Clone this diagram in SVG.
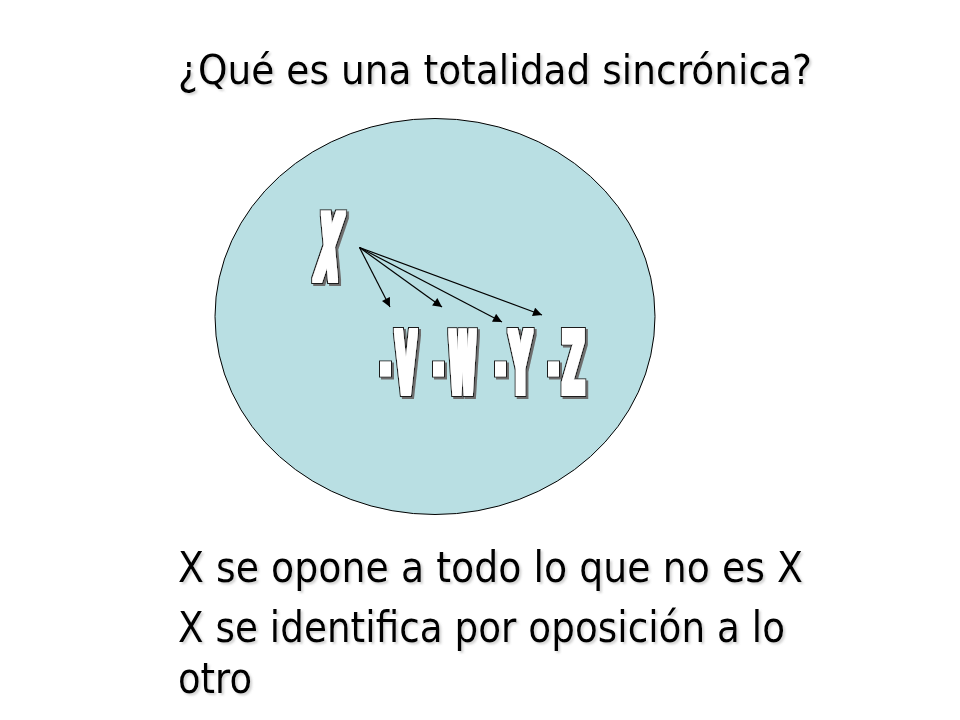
<svg xmlns="http://www.w3.org/2000/svg" width="960" height="720" viewBox="0 0 960 720">
<defs>
<marker id="ah" viewBox="0 0 10 10" refX="10" refY="5" markerWidth="10" markerHeight="9" markerUnits="userSpaceOnUse" orient="auto">
<path d="M0,0 L10,5 L0,10 Z" fill="#000"/>
</marker>
<filter id="tsh" x="-5%" y="-20%" width="110%" height="150%">
<feDropShadow dx="2" dy="2" stdDeviation="1" flood-color="#888" flood-opacity="0.38"/>
</filter>
<filter id="heavy" x="-30%" y="-20%" width="160%" height="140%">
<feMorphology in="SourceAlpha" operator="dilate" radius="2.6" result="outer"/>
<feMorphology in="SourceAlpha" operator="dilate" radius="1.7" result="inner"/>
<feOffset in="outer" dx="2" dy="2" result="off"/>
<feFlood flood-color="#6e6e6e" result="c1"/>
<feComposite in="c1" in2="off" operator="in" result="shadow"/>
<feFlood flood-color="#1e1e1e" result="c2"/>
<feComposite in="c2" in2="outer" operator="in" result="dark"/>
<feFlood flood-color="#ffffff" result="c3"/>
<feComposite in="c3" in2="inner" operator="in" result="white"/>
<feMerge><feMergeNode in="shadow"/><feMergeNode in="dark"/><feMergeNode in="white"/></feMerge>
</filter>
</defs>
<style>
.t{font-family:"DejaVu Sans Condensed","DejaVu Sans","Liberation Sans",sans-serif;fill:#000}
.title{font-size:40px}
.body{font-size:43px}
.big{font-family:"DejaVu Sans","Liberation Sans",sans-serif;font-weight:bold;text-anchor:middle;fill:#fff}
.bul{fill:#fff}
.conn line{stroke:#000;stroke-width:1.2;marker-end:url(#ah)}
</style>
<rect width="960" height="720" fill="#fff"/>
<g id="title" filter="url(#tsh)">
<text class="t title" x="178" y="84" textLength="634" lengthAdjust="spacingAndGlyphs">¿Qué es una totalidad sincrónica?</text>
</g>
<g id="circle">
<ellipse cx="435" cy="316.5" rx="220" ry="198" fill="#b9dfe3" stroke="#000" stroke-width="1"/>
</g>
<g id="node-x" filter="url(#heavy)">
<text class="big" font-size="94" transform="translate(325,281) skewX(-7) scale(0.32,1)">X</text>
</g>
<g id="node-v" filter="url(#heavy)">
<rect class="bul" x="382" y="363.5" width="7" height="11"/>
<text class="big" font-size="88" transform="translate(406,394) scale(0.3,1)">V</text>
</g>
<g id="node-w" filter="url(#heavy)">
<rect class="bul" x="435" y="363.5" width="7" height="11"/>
<text class="big" font-size="88" transform="translate(462.5,394) scale(0.27,1)">W</text>
</g>
<g id="node-y" filter="url(#heavy)">
<rect class="bul" x="497" y="363.5" width="7" height="11"/>
<text class="big" font-size="88" transform="translate(520.5,394) scale(0.34,1)">Y</text>
</g>
<g id="node-z" filter="url(#heavy)">
<rect class="bul" x="550" y="363.5" width="7" height="11"/>
<text class="big" font-size="88" transform="translate(573.5,394) scale(0.35,1)">Z</text>
</g>
<g id="connectors" class="conn">
<line x1="359.5" y1="247.5" x2="390" y2="307"/>
<line x1="359.5" y1="247.5" x2="442" y2="307"/>
<line x1="359.5" y1="247.5" x2="502" y2="322"/>
<line x1="359.5" y1="247.5" x2="542" y2="315"/>
</g>
<g id="text-body" filter="url(#tsh)">
<text class="t body" x="178" y="582" textLength="625" lengthAdjust="spacingAndGlyphs">X se opone a todo lo que no es X</text>
<text class="t body" x="178" y="642" textLength="607" lengthAdjust="spacingAndGlyphs">X se identifica por oposición a lo</text>
<text class="t body" x="178" y="693" textLength="74" lengthAdjust="spacingAndGlyphs">otro</text>
</g>
</svg>
